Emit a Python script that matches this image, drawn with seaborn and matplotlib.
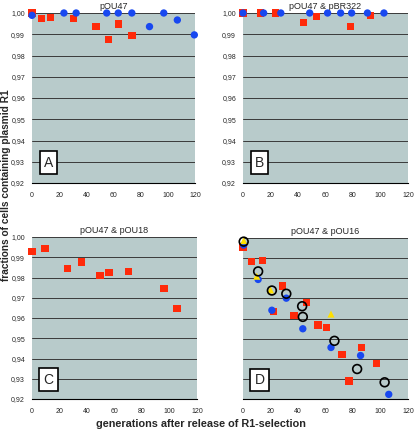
import numpy as np
import pandas as pd
import matplotlib
matplotlib.use("Agg")
import matplotlib.pyplot as plt
import seaborn as sns

# ---- data ----
a_red_x = [0, 7, 13.5, 30.5, 47, 56.5, 63.5, 73.5]
a_red_y = [1.000, 0.9975, 0.998, 0.9975, 0.9936, 0.9875, 0.9948, 0.9895]
a_blue_x = [0, 23.5, 32.5, 55, 63.5, 73.5, 86.5, 97, 107, 119.5]
a_blue_y = [0.9989, 1.000, 1.000, 1.000, 1.000, 1.000, 0.9936, 1.000, 0.9967, 0.9897]

b_red_x = [0, 12.5, 23.5, 44, 53.5, 78, 92.5]
b_red_y = [1.000, 1.000, 1.000, 0.9956, 0.9984, 0.9938, 0.9989]
b_blue_x = [0, 15, 27.5, 48.5, 61.5, 71, 79, 90.5, 102.5]
b_blue_y = [1.000, 1.000, 1.000, 1.000, 1.000, 1.000, 1.000, 1.000, 1.000]

c_red_x = [0, 9.5, 26, 36, 49.5, 56, 70, 96, 105.5]
c_red_y = [0.9929, 0.9942, 0.9844, 0.9877, 0.9811, 0.9826, 0.9829, 0.9747, 0.9646]

d_red_x = [0, 6, 14, 28.5, 22, 37, 46, 54.5, 60.5, 72, 77, 86, 97]
d_red_y = [0.9955, 0.9882, 0.9887, 0.9761, 0.9635, 0.9615, 0.9681, 0.9568, 0.9555, 0.9422, 0.929, 0.9455, 0.9376]
d_blue_x = [0.5, 11, 31.5, 21, 43.5, 64, 85.5, 106]
d_blue_y = [0.9965, 0.9794, 0.9701, 0.9641, 0.9549, 0.9456, 0.9416, 0.9223]
d_open_x = [0.5, 11, 21, 31.5, 43, 43.5, 66.5, 83, 103]
d_open_y = [0.9982, 0.9834, 0.9739, 0.9723, 0.9661, 0.9608, 0.9489, 0.9349, 0.9283]
d_yel_x = [0.5, 10, 20, 64]
d_yel_y = [0.9987, 0.981, 0.9742, 0.9622]

titles = ["pOU47", "pOU47 & pBR322", "pOU47 & pOU18", "pOU47 & pOU16"]
letters = ["A", "B", "C", "D"]
xticks = [0, 20, 40, 60, 80, 100, 120]
yticks = [0.92, 0.93, 0.94, 0.95, 0.96, 0.97, 0.98, 0.99, 1.00]

RED = "#ff2a0a"
BLUE = "#1848f0"
BG = "#b8cbcb"

sns.set_style("white")
plt.rcParams['font.family'] = ['Liberation Sans', 'DejaVu Sans']

fig = plt.figure(figsize=(4.15, 4.36), dpi=100)
W, H = 415, 436


def box(x0, x1, y0, y1):
    return [x0 / W, 1 - y1 / H, (x1 - x0) / W, (y1 - y0) / H]


rects = [box(32, 195, 13, 183), box(243, 408, 13, 183),
         box(32, 197, 237, 399), box(243, 408, 238, 399)]
axes = [fig.add_axes(r) for r in rects]

sq = dict(marker="s", s=28, color=RED, edgecolor="none", zorder=3, clip_on=False)
dot = dict(marker="o", s=28, color=BLUE, edgecolor="none", zorder=4, clip_on=False)

sns.scatterplot(x=a_red_x, y=a_red_y, ax=axes[0], **sq)
sns.scatterplot(x=a_blue_x, y=a_blue_y, ax=axes[0], **dot)
sns.scatterplot(x=b_red_x, y=b_red_y, ax=axes[1], **sq)
sns.scatterplot(x=b_blue_x, y=b_blue_y, ax=axes[1], **dot)
sns.scatterplot(x=c_red_x, y=c_red_y, ax=axes[2], **sq)
sns.scatterplot(x=d_red_x, y=d_red_y, ax=axes[3], **sq)
sns.scatterplot(x=d_blue_x, y=d_blue_y, ax=axes[3], **dot)
sns.scatterplot(x=d_yel_x, y=d_yel_y, ax=axes[3], marker="^", s=26,
                color="#ffe000", edgecolor="none", zorder=5, clip_on=False)
sns.scatterplot(x=d_open_x, y=d_open_y, ax=axes[3], marker="o", s=40,
                facecolor="none", edgecolor="black", linewidth=1.2, zorder=6,
                clip_on=False)

for i, ax in enumerate(axes):
    ax.set_facecolor(BG)
    ax.set_xlim(0, 120)
    ax.set_ylim(0.92, 1.00)
    ax.set_xticks(xticks)
    ax.set_xticklabels([str(t) for t in xticks], fontsize=5)
    ax.set_yticks(yticks)
    if i == 3:
        ax.set_yticklabels([])
    else:
        ax.set_yticklabels([f"{t:.2f}".replace(".", ",") for t in yticks], fontsize=5)
    ax.grid(axis="y", color="#3a3a3a", linewidth=0.7)
    ax.set_axisbelow(True)
    for s in ["top", "right", "left"]:
        ax.spines[s].set_visible(False)
    ax.spines["bottom"].set_color("black")
    ax.spines["bottom"].set_linewidth(0.8)
    ax.tick_params(axis="x", direction="out", length=2.5, width=0.6, pad=4)
    ax.tick_params(axis="y", length=0, pad=5)
    ax.set_title(titles[i], fontsize=6.5, pad=3)
    ax.text(0.1, 0.12, letters[i], transform=ax.transAxes, fontsize=10,
            ha="center", va="center", zorder=7,
            bbox=dict(boxstyle="square,pad=0.3", facecolor="white",
                      edgecolor="black", linewidth=1.2))
    ax.set_xlabel("")
    ax.set_ylabel("")

fig.text(6 / W, 1 - 185 / H, "fractions of cells containing plasmid R1",
         rotation=90, ha="center", va="center", fontsize=7.3, fontweight="bold")
fig.text(201 / W, 1 - 424 / H, "generations after release of R1-selection",
         ha="center", va="center", fontsize=7.8, fontweight="bold")

fig.savefig("out.png", dpi=100)
